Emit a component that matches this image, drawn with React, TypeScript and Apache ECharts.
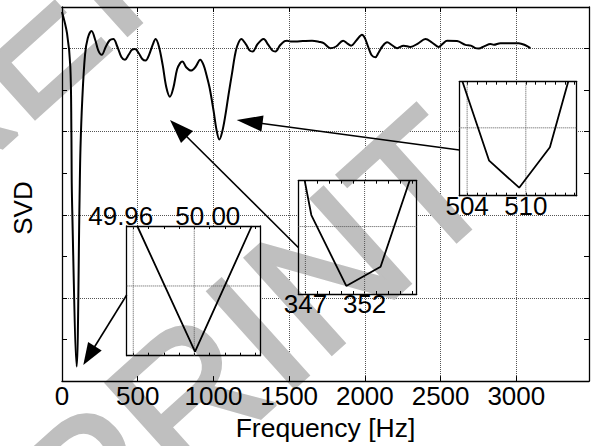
import React, { useEffect, useRef } from "react";
import * as echarts from "echarts";

// ---------------- data ----------------
const freqHz = [
  0, 33, 55, 62, 66, 97, 116, 122, 134, 152, 170, 195, 220, 240, 262, 290, 315, 339, 365, 392,
  416, 440, 462, 482, 505, 530, 552, 575, 600, 618, 640, 665, 690, 713, 735, 760, 780, 795, 820,
  852, 880, 913, 935, 955, 975, 1001, 1020, 1039, 1058, 1078, 1100, 1123, 1140, 1156, 1184, 1215,
  1240, 1259, 1290, 1315, 1332, 1360, 1390, 1409, 1440, 1470, 1486, 1510, 1541, 1590, 1651, 1700,
  1728, 1772, 1810, 1856, 1885, 1909, 1945, 1981, 2000, 2025, 2045, 2069, 2090, 2115, 2147, 2180,
  2213, 2256, 2300, 2350, 2400, 2445, 2487, 2515, 2543, 2609, 2664, 2700, 2730, 2752, 2790, 2830,
  2851, 2895, 2960, 3016, 3060, 3093,
];
const svdValues = [
  8.88, 8.37, 7.57, 6.0, 4.39, 0.35, 4.39, 5.6, 6.78, 7.85, 8.25, 8.42, 8.2, 7.95, 7.85, 8.05, 8.2,
  8.23, 8.05, 7.8, 7.73, 7.85, 7.97, 7.99, 7.9, 7.75, 7.71, 7.85, 8.1, 8.23, 8.05, 7.6, 7.05, 6.84,
  7.05, 7.5, 7.65, 7.69, 7.55, 7.47, 7.55, 7.73, 7.6, 7.35, 7.05, 6.5, 6.05, 5.81, 6.0, 6.38, 6.9,
  7.41, 7.8, 8.05, 8.23, 8.1, 7.95, 7.93, 8.1, 8.2, 8.23, 8.1, 7.95, 7.93, 8.08, 8.18, 8.19, 8.17,
  8.17, 8.18, 8.19, 8.16, 8.13, 8.01, 8.05, 8.19, 8.12, 8.07, 8.2, 8.33, 8.25, 8.01, 7.84, 7.79, 7.9,
  8.05, 8.15, 8.08, 8.01, 8.07, 8.04, 8.12, 8.23, 8.14, 8.04, 8.12, 8.19, 8.18, 8.09, 8.07, 8.01,
  8.0, 8.06, 8.11, 8.09, 8.13, 8.13, 8.13, 8.08, 8.01,
];
const xTickLabels = [0, 500, 1000, 1500, 2000, 2500, 3000];

// inset 1 (lowest dip)
const inset1X = [49.9626, 50.0005, 50.0377];
const inset1Y = [1.86, 0.057, 1.86];
const inset1Labels = [49.96, 50.0];
// inset 2 (dip near 713 Hz)
const inset2X = [346.94, 347.5, 350.45, 353.35, 355.8];
const inset2Y = [1.68, 1.171, 0.119, 0.405, 1.68];
const inset2Labels = [347, 352];
// inset 3 (dip near 1039 Hz)
const inset3X = [503.53, 506.25, 509.32, 512.46, 514.33];
const inset3Y = [1.68, 0.516, 0.118, 0.713, 1.68];
const inset3Labels = [504, 510];

const watermarkText = "PREPRINT";

const FONT = "'Liberation Sans', Arial, Helvetica, sans-serif";
const GRIDC = "#555";

const near = (v: number, arr: number[]) => arr.some((a) => Math.abs(a - v) < 1e-6);

function arrow(x1: number, y1: number, x2: number, y2: number, L: number, W: number) {
  const dx = x2 - x1, dy = y2 - y1;
  const len = Math.hypot(dx, dy);
  const ux = dx / len, uy = dy / len;
  const bx = x2 - ux * L, by = y2 - uy * L;
  const px = -uy * (W / 2), py = ux * (W / 2);
  return [
    {
      type: "line",
      z: 10,
      shape: { x1, y1, x2: bx + ux * 2, y2: by + uy * 2 },
      style: { stroke: "#000", lineWidth: 1.6 },
    },
    {
      type: "polygon",
      z: 10,
      shape: { points: [[x2, y2], [bx + px, by + py], [bx - px, by - py]] },
      style: { fill: "#000" },
    },
  ];
}

function insetX(grid: number, min: number, max: number, split: number, pos: string, labels: number[] | null, rich?: any) {
  return {
    type: "value",
    gridIndex: grid,
    min,
    max,
    splitNumber: split,
    position: pos,
    z: 3,
    axisLine: { show: true, onZero: false, lineStyle: { color: "#000", width: 1.3 } },
    axisTick: { show: true, inside: true, length: 3, lineStyle: { color: "#000", width: 1 } },
    axisLabel: labels
      ? {
          show: true,
          margin: -3,
          fontSize: 26,
          color: "#000",
          fontFamily: FONT,
          formatter: (v: number) => {
            if (!near(v, labels)) return "";
            if (rich) {
              const key = Math.abs(v - labels[0]) < 1e-6 ? "a" : "b";
              return "{" + key + "|" + v.toFixed(2) + "}";
            }
            return String(Math.round(v));
          },
          rich,
        }
      : { show: false },
    splitLine: { show: false },
  };
}

function insetY(grid: number, max: number, pos: string) {
  return {
    type: "value",
    gridIndex: grid,
    min: 0,
    max,
    position: pos,
    z: 3,
    axisLine: { show: true, onZero: false, lineStyle: { color: "#000", width: 1.3 } },
    axisTick: { show: false },
    axisLabel: { show: false },
    splitLine: { show: false },
  };
}

function insetSeries(xi: number, yi: number, xs: number[], ys: number[]) {
  return {
    type: "line",
    xAxisIndex: xi,
    yAxisIndex: yi,
    data: xs.map((x, i) => [x, ys[i]]),
    showSymbol: false,
    symbol: "none",
    z: 4,
    lineStyle: { color: "#000", width: 1.8 },
  };
}

// dotted grid lines of an inset, drawn through the inset's own scales
function insetGrid(xi: number, yi: number, gridXs: number[], xmin: number, xmax: number, ymax: number) {
  const lines: any[] = gridXs.map((g) => [
    [g, 0],
    [g, ymax],
  ]);
  lines.push([
    [xmin, 1],
    [xmax, 1],
  ]);
  return lines.map((d) => ({
    type: "line",
    xAxisIndex: xi,
    yAxisIndex: yi,
    data: d,
    showSymbol: false,
    symbol: "none",
    silent: true,
    z: 3.5,
    lineStyle: { color: GRIDC, width: 1, type: "dotted" },
  }));
}

const mainAxisLine = { show: true, onZero: false, lineStyle: { color: "#000", width: 1.3 } };
const mainTick = { show: true, inside: true, length: 5, lineStyle: { color: "#000", width: 1 } };

export default function App() {
  const ref = useRef<HTMLDivElement>(null);
  useEffect(() => {
    const chart = echarts.init(ref.current!, null, { renderer: "svg" });
    const wmAngle = (42 * Math.PI) / 180;
    const wmStyle = {
      text: watermarkText,
      fontSize: 187,
      fontFamily: FONT,
      fill: "#bfbfbf",
      stroke: "#bfbfbf",
      lineWidth: 4,
      textAlign: "right",
      textVerticalAlign: "middle",
    };
    const option: any = {
      animation: false,
      backgroundColor: "#fff",
      grid: [
        { left: 62, top: 7, width: 527, height: 377 },
        { left: 126.7, top: 226, width: 133.3, height: 129.7 },
        { left: 298.3, top: 180.7, width: 118.4, height: 113.3 },
        { left: 459.3, top: 81.7, width: 117.4, height: 114 },
      ],
      xAxis: [
        {
          type: "value",
          gridIndex: 0,
          min: 0,
          max: 3480,
          interval: 500,
          position: "bottom",
          z: 1.8,
          axisLine: mainAxisLine,
          axisTick: mainTick,
          axisLabel: {
            fontSize: 26,
            color: "#000",
            fontFamily: FONT,
            margin: 2,
            formatter: (v: number) => (near(v, xTickLabels) ? String(v) : ""),
          },
          splitLine: { show: false },
          name: "Frequency [Hz]",
          nameLocation: "middle",
          nameGap: 17,
          nameTextStyle: { fontSize: 26.5, color: "#000", fontFamily: FONT },
        },
        {
          type: "value",
          gridIndex: 0,
          min: 0,
          max: 3480,
          interval: 500,
          position: "top",
          z: 1.8,
          axisLine: mainAxisLine,
          axisTick: mainTick,
          axisLabel: { show: false },
          splitLine: { show: false },
        },
        insetX(1, 49.9557, 50.0431, 9, "bottom", null),
        insetX(1, 49.9557, 50.0431, 9, "top", inset1Labels, {
          a: { fontSize: 26, color: "#000", fontFamily: FONT, padding: [0, 25, 0, 0] },
          b: { fontSize: 26, color: "#000", fontFamily: FONT, padding: [0, 0, 0, 27] },
        }),
        insetX(2, 346.4, 356.4, 10, "bottom", inset2Labels),
        insetX(2, 346.4, 356.4, 10, "top", null),
        insetX(3, 503.2, 515.2, 12, "bottom", inset3Labels),
        insetX(3, 503.2, 515.2, 12, "top", null),
        {
          // grid-line only axis for the main plot
          type: "value",
          gridIndex: 0,
          min: 0,
          max: 3480,
          interval: 500,
          position: "bottom",
          z: 0,
          axisLine: { show: false },
          axisTick: { show: false },
          axisLabel: { show: false },
          splitLine: { show: true, lineStyle: { type: "dotted", color: GRIDC, width: 1 } },
        },
      ],
      yAxis: [
        {
          type: "value",
          gridIndex: 0,
          min: 0,
          max: 9,
          interval: 1,
          position: "left",
          z: 1.8,
          axisLine: mainAxisLine,
          axisTick: mainTick,
          axisLabel: { show: false },
          splitLine: { show: false },
        },
        {
          type: "value",
          gridIndex: 0,
          min: 0,
          max: 9,
          interval: 1,
          position: "right",
          z: 1.8,
          axisLine: mainAxisLine,
          axisTick: mainTick,
          axisLabel: { show: false },
          splitLine: { show: false },
        },
        {
          type: "value",
          gridIndex: 0,
          min: 0,
          max: 9,
          interval: 2,
          position: "left",
          z: 0,
          axisLine: { show: false },
          axisTick: { show: false },
          axisLabel: { show: false },
          splitLine: { show: true, lineStyle: { type: "dotted", color: GRIDC, width: 1 } },
        },
        insetY(1, 1.86, "left"),
        insetY(1, 1.86, "right"),
        insetY(2, 1.68, "left"),
        insetY(2, 1.68, "right"),
        insetY(3, 1.68, "left"),
        insetY(3, 1.68, "right"),
      ],
      series: [
        {
          type: "line",
          xAxisIndex: 0,
          yAxisIndex: 0,
          data: freqHz.map((f, i) => [f, svdValues[i]]),
          showSymbol: false,
          symbol: "none",
          smooth: 0.35,
          z: 2,
          lineStyle: { color: "#000", width: 2 },
        },
        ...insetGrid(2, 3, inset1Labels, 49.9557, 50.0431, 1.86),
        ...insetGrid(4, 5, inset2Labels, 346.4, 356.4, 1.68),
        ...insetGrid(6, 7, inset3Labels, 503.2, 515.2, 1.68),
        insetSeries(2, 3, inset1X, inset1Y),
        insetSeries(4, 5, inset2X, inset2Y),
        insetSeries(6, 7, inset3X, inset3Y),
      ],
      graphic: [
        { type: "rect", z: 1, shape: { x: 126.7, y: 226, width: 133.3, height: 129.7 }, style: { fill: "#fff" } },
        { type: "rect", z: 1, shape: { x: 298.3, y: 180.7, width: 118.4, height: 113.3 }, style: { fill: "#fff" } },
        { type: "rect", z: 1, shape: { x: 459.3, y: 81.7, width: 117.4, height: 114 }, style: { fill: "#fff" } },
        { type: "text", z: 1.5, x: 462.5, y: 149, rotation: wmAngle, style: wmStyle },
        { type: "text", z: 1.5, x: 490, y: -378.5, rotation: wmAngle, style: wmStyle },
        {
          type: "text",
          z: 5,
          x: 23,
          y: 208,
          rotation: Math.PI / 2,
          style: {
            text: "SVD",
            fontSize: 26,
            fontFamily: FONT,
            fill: "#000",
            textAlign: "center",
            textVerticalAlign: "middle",
          },
        },
        ...arrow(126.7, 295, 83.3, 365, 22, 16),
        ...arrow(298.3, 247.5, 170, 120, 24, 17),
        ...arrow(459.3, 150, 236.7, 120, 26, 16),
      ],
    };
    chart.setOption(option);
    return () => chart.dispose();
  }, []);
  return (
    <div
      ref={ref}
      style={{ position: "fixed", left: 0, top: 0, width: 593, height: 446, background: "#fff" }}
    />
  );
}
